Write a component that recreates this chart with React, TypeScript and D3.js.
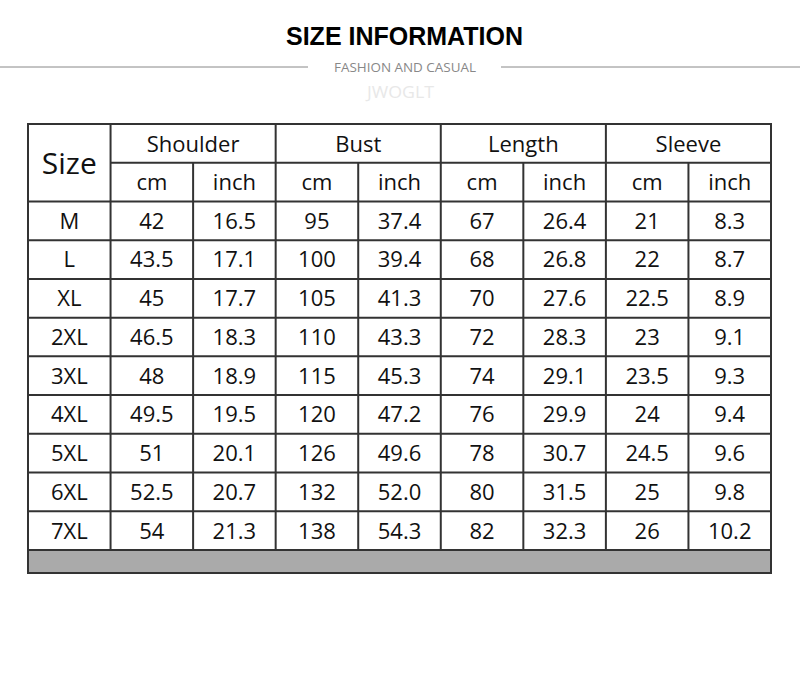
import * as d3 from "d3";

const sizes = ["M", "L", "XL", "2XL", "3XL", "4XL", "5XL", "6XL", "7XL"];
const groups = ["Shoulder", "Bust", "Length", "Sleeve"];
const units = ["cm", "inch"];

const shoulderCm = ["42", "43.5", "45", "46.5", "48", "49.5", "51", "52.5", "54"];
const shoulderInch = ["16.5", "17.1", "17.7", "18.3", "18.9", "19.5", "20.1", "20.7", "21.3"];
const bustCm = ["95", "100", "105", "110", "115", "120", "126", "132", "138"];
const bustInch = ["37.4", "39.4", "41.3", "43.3", "45.3", "47.2", "49.6", "52.0", "54.3"];
const lengthCm = ["67", "68", "70", "72", "74", "76", "78", "80", "82"];
const lengthInch = ["26.4", "26.8", "27.6", "28.3", "29.1", "29.9", "30.7", "31.5", "32.3"];
const sleeveCm = ["21", "22", "22.5", "23", "23.5", "24", "24.5", "25", "26"];
const sleeveInch = ["8.3", "8.7", "8.9", "9.1", "9.3", "9.4", "9.6", "9.8", "10.2"];

const columns = [shoulderCm, shoulderInch, bustCm, bustInch, lengthCm, lengthInch, sleeveCm, sleeveInch];

const W = 800;
const H = 685;
const font = "'Open Sans', sans-serif";
const lineColor = "#333";

export default function App() {
  const nCols = 1 + columns.length;
  const nRows = 2 + sizes.length;
  const x = d3.scaleLinear().domain([0, nCols]).range([28, 771]);
  const y = d3.scaleLinear().domain([0, nRows]).range([124, 550]);
  const colW = x(1) - x(0);
  const rowH = y(1) - y(0);
  const cx = (i: number) => x(i) + colW / 2;
  const base = (r: number, fs: number) => y(r) + rowH / 2 + fs * 0.36;

  const hLines: { r: number; from: number }[] = d3.range(1, nRows + 1).map(r => ({ r, from: r === 1 ? 1 : 0 }));
  const vLines: { c: number; from: number }[] = d3.range(1, nCols).map(c => ({ c, from: c % 2 === 1 ? 0 : 1 }));

  return (
    <svg width={W} height={H} style={{ position: "absolute", left: 0, top: 0, background: "#fff" }}>
      {/* heading */}
      <text x={404.5} y={45} textAnchor="middle" fontFamily="'Liberation Sans', Arial, sans-serif" fontWeight="bold" fontSize={25} fill="#000">
        SIZE INFORMATION
      </text>
      <line x1={0} x2={308} y1={67} y2={67} stroke="#888" strokeWidth={1} />
      <line x1={501} x2={W} y1={67} y2={67} stroke="#888" strokeWidth={1} />
      <text x={405} y={72} textAnchor="middle" fontFamily={font} fontSize={13.5} fill="#888" textLength={142} lengthAdjust="spacingAndGlyphs">
        FASHION AND CASUAL
      </text>
      <text x={400.5} y={98} textAnchor="middle" fontFamily={font} fontSize={16} fill="#e8e8e8" textLength={67} lengthAdjust="spacingAndGlyphs">
        JWOGLT
      </text>

      {/* gray footer bar */}
      <rect x={x(0)} y={y(nRows)} width={x(nCols) - x(0)} height={23} fill="#aaaaaa" />

      {/* grid */}
      <g stroke={lineColor} strokeWidth={2}>
        {hLines.map(d => (
          <line key={"h" + d.r} x1={x(d.from)} x2={x(nCols)} y1={y(d.r)} y2={y(d.r)} />
        ))}
        {vLines.map(d => (
          <line key={"v" + d.c} x1={x(d.c)} x2={x(d.c)} y1={y(d.from)} y2={y(nRows)} />
        ))}
        <rect x={x(0)} y={y(0)} width={x(nCols) - x(0)} height={y(nRows) + 23 - y(0)} fill="none" />
      </g>

      <g fontFamily={font} fill="#111" textAnchor="middle">
        <text x={cx(0)} y={y(1) + 11} fontSize={30}>Size</text>
        {groups.map((g, i) => (
          <text key={g} x={x(1 + i * 2) + colW} y={base(0, 22) + 1} fontSize={22}>{g}</text>
        ))}
        {columns.map((_, i) => (
          <text key={"u" + i} x={cx(i + 1)} y={base(1, 22)} fontSize={22}>{units[i % 2]}</text>
        ))}
        {sizes.map((s, r) => (
          <text key={s} x={cx(0)} y={base(r + 2, 22)} fontSize={22}>{s}</text>
        ))}
        {columns.map((col, i) =>
          col.map((v, r) => (
            <text key={i + "-" + r} x={cx(i + 1)} y={base(r + 2, 22)} fontSize={22}>{v}</text>
          ))
        )}
      </g>
    </svg>
  );
}
